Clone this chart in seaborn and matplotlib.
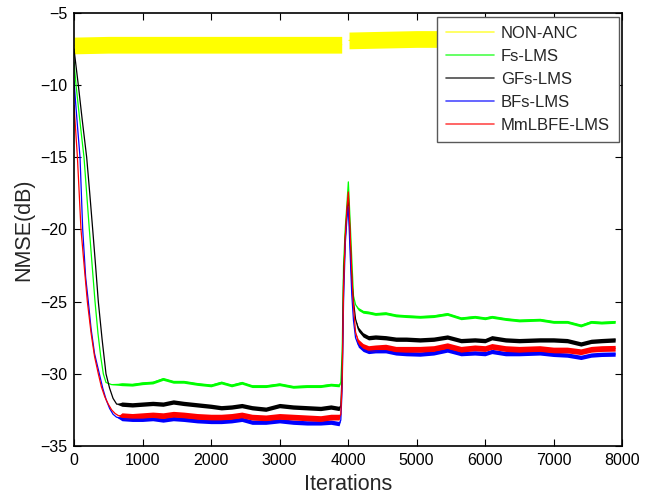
import matplotlib
matplotlib.use("Agg")
import matplotlib.pyplot as plt
import numpy as np
import pandas as pd
import seaborn as sns
from matplotlib.lines import Line2D

sns.set_style("ticks")
plt.rcParams["font.family"] = ["Liberation Sans", "DejaVu Sans"]

# ---------------------------------------------------------------- data
SERIES = ["NON-ANC", "Fs-LMS", "GFs-LMS", "BFs-LMS", "MmLBFE-LMS"]
COLORS = ["#ffff00", "#00ff00", "#000000", "#0000ff", "#ff0000"]

# residual noise without control (two runs, before/after the path change)
NONANC_IT_1 = [0, 500, 1000, 1500, 2000, 2500, 3000, 3500, 3908]
NONANC_DB_1 = [-7.25, -7.2, -7.2, -7.2, -7.2, -7.2, -7.2, -7.2, -7.2]
NONANC_IT_2 = [4015, 4500, 5000, 5500, 6000, 6500, 7000, 7500, 7900]
NONANC_DB_2 = [-6.9, -6.85, -6.8, -6.8, -6.8, -6.8, -6.8, -6.8, -6.8]

# initial convergence of each adaptive filter
RAMP_IT = {
    "Fs-LMS": [0, 30, 75, 110, 146, 185, 224, 265, 307, 350, 390, 428, 467, 550],
    "GFs-LMS": [0, 63, 120, 185, 230, 273, 315, 355, 410, 467, 520, 570, 623],
    "BFs-LMS": [0, 25, 50, 88, 127, 170, 209, 250, 300, 370, 420, 470, 520, 570, 620],
    "MmLBFE-LMS": [0, 50, 102, 150, 195, 250, 300, 355, 400, 450, 500, 550, 600, 650],
}
RAMP_DB = {
    "Fs-LMS": [-8.4, -10.0, -12.0, -13.5, -15.0, -17.5, -20.0, -22.5, -25.0, -27.2,
               -28.8, -30.0, -30.6, -30.75],
    "GFs-LMS": [-7.5, -10.0, -12.4, -15.0, -17.5, -20.0, -22.5, -25.0, -27.6, -30.0,
                -31.0, -31.7, -32.1],
    "BFs-LMS": [-9.7, -11.3, -12.8, -15.0, -20.0, -23.3, -25.0, -26.9, -28.6, -30.0,
                -31.0, -31.8, -32.4, -32.8, -33.0],
    "MmLBFE-LMS": [-11.4, -15.0, -20.0, -22.6, -25.0, -27.2, -28.8, -30.0, -30.9,
                   -31.6, -32.1, -32.5, -32.75, -32.9],
}

# first steady state
FLAT1_IT = [700, 850, 1000, 1150, 1300, 1450, 1600, 1800, 2000, 2150, 2300, 2450,
            2600, 2800, 3000, 3200, 3400, 3600, 3750, 3870]
FLAT1_DB = {
    "Fs-LMS": [-30.72, -30.75, -30.65, -30.6, -30.35, -30.55, -30.55, -30.7, -30.8,
               -30.6, -30.8, -30.62, -30.85, -30.85, -30.72, -30.9, -30.85, -30.85,
               -30.75, -30.8],
    "GFs-LMS": [-32.1, -32.15, -32.1, -32.05, -32.1, -31.95, -32.05, -32.15, -32.25,
                -32.35, -32.3, -32.2, -32.35, -32.45, -32.2, -32.3, -32.35, -32.4,
                -32.3, -32.4],
    "BFs-LMS": [-33.1, -33.15, -33.15, -33.1, -33.2, -33.1, -33.15, -33.25, -33.3,
                -33.3, -33.25, -33.15, -33.35, -33.35, -33.25, -33.35, -33.4, -33.4,
                -33.35, -33.45],
    "MmLBFE-LMS": [-32.9, -32.95, -32.9, -32.85, -32.9, -32.8, -32.85, -32.95, -33.0,
                   -33.0, -32.95, -32.85, -33.0, -33.05, -32.95, -33.0, -33.05, -33.1,
                   -33.0, -33.0],
}

# sudden change of the secondary path at iteration 4000
JUMP_IT = [3895, 3915, 3935, 3960, 3985, 4005, 4030, 4055, 4080, 4110]
JUMP_DB = {
    "Fs-LMS": [-30.6, -28.5, -22.5, -19.9, -18.2, -16.7, -19.3, -22.0, -24.6, -25.2],
    "GFs-LMS": [-32.2, -30.0, -23.5, -20.6, -18.8, -17.8, -20.5, -23.5, -25.0, -26.2],
    "BFs-LMS": [-33.2, -31.0, -25.0, -21.0, -19.2, -18.4, -21.5, -24.5, -26.3, -27.5],
    "MmLBFE-LMS": [-32.8, -30.5, -24.0, -20.5, -18.5, -17.4, -20.0, -23.0, -25.3, -27.1],
}

# second steady state
FLAT2_IT = [4150, 4220, 4300, 4400, 4550, 4700, 4850, 5050, 5250, 5450, 5650, 5850,
            6000, 6100, 6300, 6500, 6800, 7000, 7200, 7400, 7550, 7700, 7900]
FLAT2_DB = {
    "Fs-LMS": [-25.5, -25.7, -25.75, -25.85, -25.8, -25.95, -26.0, -26.05, -26.0,
               -25.85, -26.15, -26.05, -26.15, -26.05, -26.2, -26.3, -26.25, -26.4,
               -26.4, -26.65, -26.4, -26.45, -26.4],
    "GFs-LMS": [-26.9, -27.3, -27.5, -27.45, -27.5, -27.6, -27.6, -27.65, -27.6,
                -27.45, -27.7, -27.65, -27.7, -27.5, -27.65, -27.7, -27.65, -27.65,
                -27.7, -27.93, -27.75, -27.7, -27.65],
    "BFs-LMS": [-28.0, -28.3, -28.45, -28.4, -28.4, -28.55, -28.6, -28.63, -28.55,
                -28.35, -28.6, -28.55, -28.6, -28.45, -28.6, -28.6, -28.55, -28.65,
                -28.7, -28.86, -28.7, -28.65, -28.63],
    "MmLBFE-LMS": [-27.8, -28.1, -28.25, -28.2, -28.15, -28.3, -28.3, -28.3, -28.25,
                   -28.05, -28.3, -28.2, -28.25, -28.1, -28.25, -28.3, -28.25, -28.35,
                   -28.35, -28.47, -28.3, -28.25, -28.23],
}

# half width of the fluctuation band around each curve in steady state (dB)
RIPPLE = {"NON-ANC": 0.58, "Fs-LMS": 0.10, "GFs-LMS": 0.15, "BFs-LMS": 0.15,
          "MmLBFE-LMS": 0.20}


# ---------------------------------------------------------------- helpers
def band_frame(its, dbs, halves):
    """Long-form table with the lower and upper envelope at every iteration."""
    rows = []
    for it, v, h in zip(its, dbs, halves):
        rows.append((it, v - h))
        rows.append((it, v + h))
    return pd.DataFrame(rows, columns=["iteration", "nmse"])


def draw(ax, df, color):
    sns.lineplot(data=df, x="iteration", y="nmse", ax=ax, color=color,
                 estimator="mean", errorbar=lambda v: (v.min(), v.max()),
                 err_kws={"alpha": 1.0, "linewidth": 0}, linewidth=0.9,
                 legend=False)


# ---------------------------------------------------------------- figure
fig = plt.figure(figsize=(6.53, 4.96), dpi=100)
ax = fig.add_axes([74 / 653, 1 - 446 / 496, 548 / 653, 433 / 496])

# NON-ANC: two separate runs
r = RIPPLE["NON-ANC"]
draw(ax, band_frame(NONANC_IT_1, NONANC_DB_1, [r] * len(NONANC_IT_1)), COLORS[0])
draw(ax, band_frame(NONANC_IT_2, NONANC_DB_2, [r] * len(NONANC_IT_2)), COLORS[0])

for name, color in zip(SERIES[1:], COLORS[1:]):
    r = RIPPLE[name]
    its = RAMP_IT[name] + FLAT1_IT + JUMP_IT + FLAT2_IT
    dbs = RAMP_DB[name] + FLAT1_DB[name] + JUMP_DB[name] + FLAT2_DB[name]
    halves = ([0.0] * len(RAMP_IT[name]) + [r] * len(FLAT1_IT)
              + [0.0] * len(JUMP_IT) + [r] * len(FLAT2_IT))
    draw(ax, band_frame(its, dbs, halves), color)

ax.set_xlim(0, 8000)
ax.set_ylim(-35, -5)
ax.set_xticks(np.arange(0, 8001, 1000))
ax.set_yticks(np.arange(-35, -4, 5))
ax.tick_params(direction="in", length=5, width=0.8, top=True, right=True,
               labelsize=11.5, pad=5, colors="black")
for sp in ax.spines.values():
    sp.set_linewidth(1.2)
    sp.set_color("black")

ax.set_xlabel("Iterations", fontsize=15.5, labelpad=4)
ax.set_ylabel("NMSE(dB)", fontsize=15.5, labelpad=4)

handles = [Line2D([], [], color=c, lw=1.2, alpha=0.7) for c in COLORS]
leg = ax.legend(handles, SERIES, loc="upper right",
                bbox_to_anchor=(619 / 653, 1 - 16.7 / 496),
                bbox_transform=fig.transFigure, borderaxespad=0,
                fancybox=False, framealpha=1, edgecolor="0.35",
                fontsize=12, handlelength=2.9, handletextpad=0.4,
                labelspacing=0.48, borderpad=0.55)
leg.get_frame().set_linewidth(1.0)

fig.savefig("out.png", dpi=100)
